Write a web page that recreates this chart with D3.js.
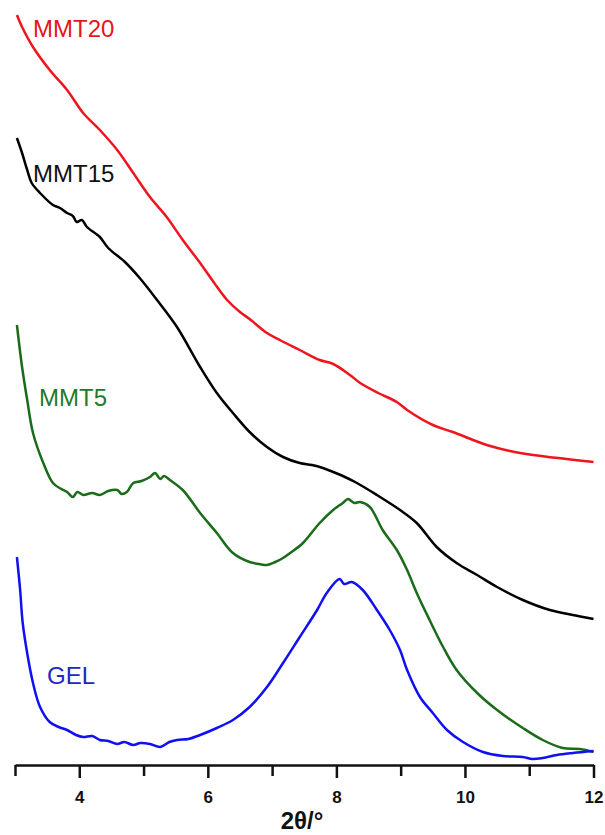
<!DOCTYPE html>
<html>
<head>
<meta charset="utf-8">
<script src="https://cdn.jsdelivr.net/npm/d3@7"></script>
<style>
  html, body { margin: 0; padding: 0; background: #fff; }
  svg { display: block; font-family: "Liberation Sans", Arial, sans-serif; }
</style>
</head>
<body>
<svg id="chart" width="605" height="835"></svg>
<script>
// XRD patterns, 2theta (deg) vs intensity (a.u., curves stacked with offsets)
const MMT20 = [
  [3.03, 750], [3.11, 738], [3.28, 718], [3.54, 695], [3.81, 675], [4.06, 652],
  [4.32, 635], [4.59, 615], [4.84, 592], [5.10, 568], [5.36, 548], [5.61, 525],
  [5.88, 502], [6.10, 482], [6.30, 465], [6.50, 453], [6.65, 446], [6.92, 432],
  [7.12, 425], [7.43, 415], [7.74, 405], [7.95, 401], [8.21, 390], [8.37, 382],
  [8.65, 372], [8.94, 363], [9.10, 355], [9.50, 340], [9.81, 333], [10.34, 320],
  [10.70, 314], [11.06, 310], [11.58, 306], [12.0, 303]
];
const MMT15 = [
  [3.03, 627], [3.11, 612], [3.19, 595], [3.26, 582], [3.39, 572], [3.59, 560],
  [3.70, 557], [3.81, 552], [3.90, 549], [3.96, 543], [4.04, 545], [4.12, 538],
  [4.32, 528], [4.45, 517], [4.71, 503], [4.94, 487], [5.21, 465], [5.52, 438],
  [5.88, 398], [6.14, 372], [6.39, 352], [6.65, 333], [6.92, 318], [7.17, 308],
  [7.43, 302], [7.62, 300], [7.79, 297], [7.95, 293], [8.10, 289], [8.32, 282],
  [8.63, 270], [8.99, 255], [9.25, 242], [9.56, 218], [9.87, 202], [10.19, 190],
  [10.50, 178], [10.90, 165], [11.32, 155], [11.68, 150], [12.0, 146]
];
const MMT5 = [
  [3.03, 440], [3.11, 398], [3.19, 365], [3.28, 332], [3.44, 302], [3.59, 282],
  [3.72, 276], [3.81, 273], [3.90, 268], [3.97, 273], [4.06, 270], [4.20, 272],
  [4.32, 270], [4.45, 274], [4.59, 275], [4.66, 271], [4.74, 273], [4.84, 282],
  [4.97, 284], [5.10, 288], [5.18, 292], [5.26, 286], [5.32, 289], [5.41, 285],
  [5.61, 275], [5.88, 252], [6.14, 232], [6.39, 212], [6.65, 203], [6.80, 201],
  [6.92, 200], [7.05, 203], [7.17, 207], [7.28, 212], [7.48, 222], [7.74, 242],
  [7.95, 255], [8.10, 262], [8.18, 266], [8.28, 262], [8.37, 263], [8.52, 258],
  [8.72, 235], [8.94, 215], [9.10, 195], [9.25, 172], [9.45, 145], [9.66, 118],
  [9.87, 95], [10.19, 72], [10.50, 55], [10.90, 37], [11.21, 25], [11.52, 17],
  [11.79, 16], [12.0, 13]
];
const GEL = [
  [3.03, 208], [3.08, 175], [3.12, 142], [3.20, 108], [3.28, 82], [3.39, 58],
  [3.54, 43], [3.68, 38], [3.81, 35], [3.95, 30], [4.06, 28], [4.20, 29],
  [4.32, 25], [4.45, 24], [4.59, 21], [4.70, 23], [4.84, 20], [4.95, 22],
  [5.10, 21], [5.26, 18], [5.40, 23], [5.52, 25], [5.70, 26], [5.88, 30],
  [6.14, 37], [6.39, 45], [6.65, 58], [6.92, 78], [7.17, 102], [7.43, 128],
  [7.70, 155], [7.85, 172], [8.05, 186], [8.12, 181], [8.24, 183], [8.41, 175],
  [8.63, 155], [8.83, 135], [8.99, 115], [9.10, 95], [9.30, 68], [9.50, 52],
  [9.72, 35], [9.97, 23], [10.28, 13], [10.59, 9], [10.90, 8], [11.05, 6],
  [11.21, 7], [11.43, 10], [11.68, 12], [12.0, 14]
];

const seriesNames = ['MMT20', 'MMT15', 'MMT5', 'GEL'];
const seriesData = [MMT20, MMT15, MMT5, GEL];
const majorTicks = [4, 6, 8, 10, 12];
const minorTicks = [3, 5, 7, 9, 11];
const xTitle = '2θ/°';

const styles = {
  MMT20: { color: '#f0141e', label: '#e8141c', lx: 33, ly: 37 },
  MMT15: { color: '#000000', label: '#111111', lx: 33, ly: 182 },
  MMT5:  { color: '#1a6b1a', label: '#227a2a', lx: 39, ly: 406 },
  GEL:   { color: '#1010f0', label: '#2525c8', lx: 47, ly: 684 }
};

const svg = d3.select('#chart');
const x = d3.scaleLinear().domain([3, 12]).range([15, 593.5]);
const y = d3.scaleLinear().domain([0, 760]).range([765, 5]);

const line = d3.line()
  .x(d => x(d[0]))
  .y(d => y(d[1]))
  .curve(d3.curveCatmullRom.alpha(0.5));

seriesNames.forEach((name, i) => {
  svg.append('path')
    .datum(seriesData[i])
    .attr('fill', 'none')
    .attr('stroke', styles[name].color)
    .attr('stroke-width', 2.5)
    .attr('stroke-linejoin', 'round')
    .attr('d', line);

  svg.append('text')
    .attr('x', styles[name].lx)
    .attr('y', styles[name].ly)
    .attr('fill', styles[name].label)
    .attr('font-size', 24)
    .text(name);
});

// x axis: long labelled ticks on even values, short ones in between
const axisMajor = d3.axisBottom(x)
  .tickValues(majorTicks)
  .tickSize(13)
  .tickSizeOuter(0)
  .tickFormat(d3.format('d'));

const gx = svg.append('g')
  .attr('transform', `translate(0,${y(0)})`)
  .call(axisMajor);

gx.select('.domain').attr('stroke-width', 2.5).attr('stroke', '#111');
gx.selectAll('.tick line').attr('stroke-width', 2.5).attr('stroke', '#111');
gx.selectAll('.tick text')
  .attr('font-size', 17)
  .attr('font-weight', 'bold')
  .attr('font-family', '"Liberation Sans", Arial, sans-serif')
  .attr('fill', '#111')
  .attr('dy', 0)
  .attr('y', 38);

const gm = svg.append('g')
  .attr('transform', `translate(0,${y(0)})`)
  .call(d3.axisBottom(x).tickValues(minorTicks).tickSize(11).tickSizeOuter(0).tickFormat(''));
gm.select('.domain').remove();
gm.selectAll('.tick line').attr('stroke-width', 2.5).attr('stroke', '#111');

svg.append('text')
  .attr('x', 302)
  .attr('y', 829)
  .attr('text-anchor', 'middle')
  .attr('font-size', 24)
  .attr('font-weight', 'bold')
  .attr('fill', '#111')
  .text(xTitle);
</script>
</body>
</html>
